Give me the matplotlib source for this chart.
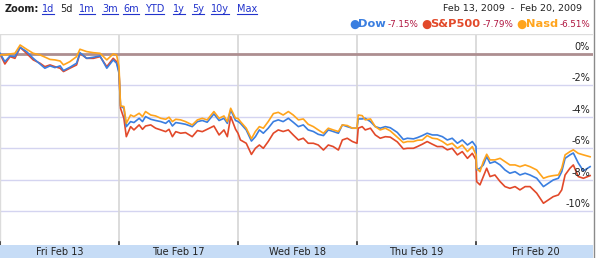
import matplotlib
matplotlib.use("Agg")
import matplotlib.pyplot as plt
from matplotlib.patches import Rectangle
from matplotlib.lines import Line2D

# trading minutes after the open, one list per day
day_minutes = [
    [0, 16, 33, 49, 66, 87, 109, 131, 147, 164, 180, 197, 208, 229, 251, 262, 284, 306, 328, 350, 371, 382, 390],
    [5, 16, 24, 38, 49, 66, 77, 87, 104, 120, 137, 153, 164, 175, 186, 202, 218, 240, 257, 273, 289, 311, 328, 344, 355, 366, 382, 390],
    [8, 27, 44, 57, 70, 83, 99, 116, 132, 148, 165, 181, 198, 214, 230, 247, 263, 280, 296, 312, 329, 342, 358, 375, 390],
    [4, 17, 27, 44, 60, 76, 93, 109, 132, 152, 165, 185, 198, 214, 230, 247, 263, 280, 296, 312, 329, 345, 362, 378, 390],
    [2, 13, 24, 35, 46, 62, 79, 95, 111, 128, 144, 161, 177, 199, 221, 237, 253, 270, 281, 292, 308, 319, 335, 352, 374],
]

dow = [
    [0.04, -0.49, -0.13, -0.17, 0.42, 0.15, -0.28, -0.64, -0.91, -0.76, -0.87, -0.76, -1.06, -0.85, -0.59, 0.08, -0.28, -0.21, -0.13, -0.91, -0.38, -0.59, -1.23],
    [-3.31, -3.46, -4.63, -4.31, -4.37, -4.10, -4.31, -3.99, -4.16, -4.24, -4.31, -4.42, -4.24, -4.59, -4.37, -4.42, -4.48, -4.63, -4.31, -4.24, -4.35, -3.82, -4.24, -4.10, -4.42, -3.57, -4.24, -4.30],
    [-4.42, -4.84, -5.55, -5.27, -4.84, -5.05, -4.73, -4.31, -4.20, -4.31, -4.10, -4.35, -4.63, -4.52, -4.84, -4.94, -5.12, -5.20, -4.84, -4.94, -5.05, -4.52, -4.63, -4.73, -4.73],
    [-4.14, -4.14, -4.10, -4.31, -4.63, -4.73, -4.63, -4.70, -5.00, -5.45, -5.37, -5.41, -5.33, -5.20, -5.05, -5.16, -5.16, -5.27, -5.48, -5.37, -5.69, -5.48, -5.80, -5.58, -5.90],
    [-7.39, -7.28, -7.07, -6.54, -6.96, -6.86, -7.07, -7.39, -7.60, -7.50, -7.71, -7.60, -7.71, -7.92, -8.45, -8.24, -8.03, -7.92, -7.50, -6.65, -6.43, -6.31, -6.94, -7.45, -7.18],
]

sp500 = [
    [0.0, -0.64, -0.17, -0.28, 0.42, 0.04, -0.38, -0.59, -0.81, -0.70, -0.81, -0.91, -1.12, -0.91, -0.70, 0.04, -0.28, -0.28, -0.17, -0.81, -0.28, -0.49, -1.12],
    [-3.46, -4.10, -5.27, -4.63, -4.84, -4.52, -4.80, -4.59, -4.52, -4.73, -4.84, -4.95, -4.80, -5.27, -4.95, -5.05, -5.01, -5.27, -4.88, -4.95, -4.80, -4.59, -5.16, -4.84, -5.27, -3.99, -4.80, -5.05],
    [-5.48, -5.69, -6.40, -6.01, -5.80, -6.01, -5.58, -5.05, -4.84, -4.94, -4.84, -5.16, -5.48, -5.37, -5.69, -5.69, -5.80, -6.12, -5.80, -5.90, -6.12, -5.48, -5.37, -5.58, -5.69],
    [-4.73, -4.63, -4.84, -4.73, -5.16, -5.37, -5.27, -5.30, -5.60, -6.05, -6.01, -6.01, -5.90, -5.75, -5.58, -5.75, -5.90, -5.90, -6.11, -6.01, -6.43, -6.22, -6.65, -6.33, -6.75],
    [-8.13, -8.34, -7.81, -7.28, -7.81, -7.71, -8.13, -8.45, -8.56, -8.45, -8.66, -8.45, -8.45, -8.87, -9.51, -9.30, -9.09, -8.98, -8.66, -7.71, -7.28, -7.07, -7.81, -7.92, -7.75],
]

nasd = [
    [-0.06, -0.06, 0.0, 0.04, 0.57, 0.30, 0.04, -0.06, -0.20, -0.35, -0.38, -0.45, -0.70, -0.49, -0.17, 0.30, 0.15, 0.08, 0.04, -0.38, 0.0, -0.06, -0.80],
    [-3.31, -3.35, -4.42, -3.89, -3.99, -3.78, -3.99, -3.67, -3.89, -3.95, -4.10, -4.16, -4.03, -4.31, -4.16, -4.20, -4.31, -4.52, -4.20, -4.10, -4.20, -3.67, -4.10, -3.95, -4.31, -3.46, -4.10, -4.10],
    [-4.31, -4.73, -5.40, -4.94, -4.63, -4.73, -4.31, -3.80, -3.72, -3.89, -3.67, -3.89, -4.20, -4.14, -4.48, -4.63, -4.84, -5.05, -4.73, -4.84, -4.94, -4.52, -4.56, -4.73, -4.73],
    [-3.89, -3.93, -4.20, -4.14, -4.63, -4.84, -4.73, -4.90, -5.30, -5.65, -5.58, -5.58, -5.50, -5.48, -5.20, -5.37, -5.41, -5.58, -5.80, -5.69, -6.01, -5.80, -6.22, -5.90, -6.43],
    [-7.28, -7.50, -6.86, -6.39, -6.75, -6.75, -6.65, -6.86, -7.07, -7.07, -7.18, -7.07, -7.18, -7.39, -7.92, -7.81, -7.75, -7.71, -7.28, -6.43, -6.22, -6.11, -6.33, -6.43, -6.55],
]

day_labels = ["Fri Feb 13", "Tue Feb 17", "Wed Feb 18", "Thu Feb 19", "Fri Feb 20"]
y_ticks = [0, -2, -4, -6, -8, -10]
zoom_links = ["1d", "5d", "1m", "3m", "6m", "YTD", "1y", "5y", "10y", "Max"]
legend_names = ["Dow", "S&P500", "Nasd"]
legend_changes = ["-7.15%", "-7.79%", "-6.51%"]
date_range = "Feb 13, 2009  -  Feb 20, 2009"

c_dow = "#3a7ee0"
c_sp = "#e2492a"
c_nasd = "#ffa41c"
W, H = 600, 258


def flat(series):
    xs, ys = [], []
    for d in range(len(day_minutes)):
        for m, v in zip(day_minutes[d], series[d]):
            xs.append(d + m / 390.0)
            ys.append(v)
    return xs, ys


fig = plt.figure(figsize=(W / 100, H / 100), dpi=100)
fig.patch.set_facecolor("white")
ax = fig.add_axes([0, 13 / H, 593 / W, 211 / H])
ax.set_xlim(0, 593 / 119)
ax.set_ylim(-12.17, 1.27)
for s in ax.spines.values():
    s.set_visible(False)
ax.set_xticks([])
ax.set_yticks([])

# grid
for t in y_ticks[1:]:
    ax.axhline(t, color="#d4d4f0", lw=1.0, zorder=1)
for d in range(1, 5):
    ax.axvline(d, color="#d6d6d6", lw=1.2, zorder=1)
    ax.plot([d, d], [-12.17, -11.95], color="#333333", lw=1.2, zorder=2)
ax.plot([0.004, 0.004], [-12.17, -11.95], color="#333333", lw=1.2, zorder=2)
ax.axhline(0, color="#ad8e90", lw=2.0, zorder=2)
ax.axhline(1.25, color="#dddddd", lw=1.0, zorder=1)
ax.axvline(0.004, color="#dcdcdc", lw=1.0, zorder=1)

for t in y_ticks:
    ax.text(590 / 119, t + 0.12, "%d%%" % t, ha="right", va="bottom",
            fontsize=7, color="#222222", zorder=5)

for series, col, z in [(sp500, c_sp, 3), (dow, c_dow, 4), (nasd, c_nasd, 5)]:
    xs, ys = flat(series)
    ax.plot(xs, ys, color=col, lw=1.2, zorder=z)

# date band
fig.patches.append(Rectangle((0, 0), 593 / W, 13 / H, transform=fig.transFigure,
                             facecolor="#c6dcf6", edgecolor="none"))
for i, lab in enumerate(day_labels):
    fig.text((i * 119 + 59.5) / W, 6 / H, lab, ha="center", va="center",
             fontsize=7, color="#222222")

# right border
fig.lines.append(Line2D([593.5 / W, 593.5 / W], [0, 1], transform=fig.transFigure,
                        color="#8a8a8a", lw=1.0))

# zoom bar
fig.text(5 / W, 1 - 9 / H, "Zoom:", ha="left", va="center", fontsize=7,
         fontweight="bold", color="#222222")
link_x = [42, 60, 79, 102, 123, 145, 173, 192, 211, 237]
fig.canvas.draw()
for lx, lab in zip(link_x, zoom_links):
    col = "#222222" if lab == "5d" else "#2233cc"
    t = fig.text(lx / W, 1 - 9 / H, lab, ha="left", va="center", fontsize=7, color=col)
    if lab != "5d":
        bb = t.get_window_extent(renderer=fig.canvas.get_renderer())
        fig.lines.append(Line2D([bb.x0 / W, bb.x1 / W], [1 - 13.5 / H, 1 - 13.5 / H],
                                transform=fig.transFigure, color=col, lw=0.8))

fig.text(582 / W, 1 - 8 / H, date_range, ha="right", va="center", fontsize=6.8,
         color="#222222")

# legend row
leg_cols = [c_dow, c_sp, c_nasd]
x = 354
for name, chg, col in zip(legend_names, legend_changes, leg_cols):
    fig.text(x / W, 1 - 24 / H, "\u25cf", ha="center", va="center", fontsize=8.5, color=col)
    t = fig.text((x + 4) / W, 1 - 24 / H, name, ha="left", va="center",
                 fontsize=8.2, fontweight="bold", color=col)
    fig.canvas.draw()
    bb = t.get_window_extent()
    t2 = fig.text((bb.x1 + 2) / W, 1 - 24.5 / H, chg, ha="left", va="center",
                  fontsize=6.3, color="#b01640")
    fig.canvas.draw()
    x = t2.get_window_extent().x1 + 8

fig.savefig("out.png", dpi=100)
